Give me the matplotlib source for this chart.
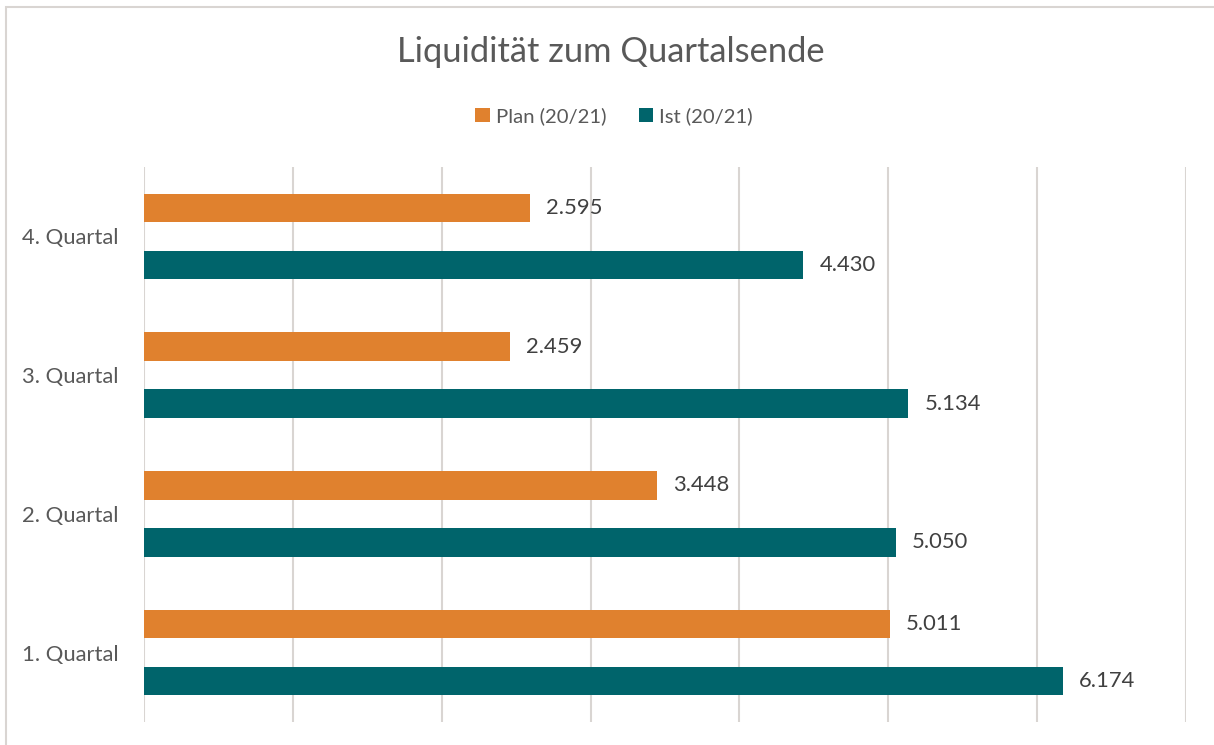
import matplotlib.pyplot as plt
import numpy as np
from matplotlib.patches import Rectangle

quarters = ['1. Quartal', '2. Quartal', '3. Quartal', '4. Quartal']
plan = [5011, 3448, 2459, 2595]
ist = [6174, 5050, 5134, 4430]
series_names = ['Plan (20/21)', 'Ist (20/21)']

orange = '#E0812E'
teal = '#00646B'
grid_col = '#D9D5D2'

plt.rcParams['font.family'] = ['Lato', 'DejaVu Sans']

W, H = 1214, 745
fig = plt.figure(figsize=(W / 100, H / 100), dpi=100)
ax = fig.add_axes([144 / W, 1 - 722 / H, (1186 - 144) / W, (722 - 167) / H])

y = np.arange(len(quarters))
h = 0.205
b_plan = ax.barh(y + h, plan, height=h, color=orange, label=series_names[0])
b_ist = ax.barh(y - h, ist, height=h, color=teal, label=series_names[1])

# value labels right of each bar, German thousands separator
for bars, vals in ((b_plan, plan), (b_ist, ist)):
    for bar, v in zip(bars, vals):
        ax.annotate('{:,}'.format(v).replace(',', '.'),
                    (v, bar.get_y() + bar.get_height() / 2),
                    xytext=(16, 0), textcoords='offset pixels',
                    va='center', ha='left', fontsize=15.8, color='#404040')

ax.set_xlim(0, 7000)
ax.set_ylim(-0.5, 3.5)
ax.set_xticks(np.arange(0, 7001, 1000))
ax.set_xticklabels([])
ax.set_yticks(y)
ax.set_yticklabels(quarters, fontsize=15.8, color='#595959')
ax.tick_params(axis='x', length=0)
ax.tick_params(axis='y', length=0, pad=18)
ax.grid(axis='x', color=grid_col, linewidth=1.5)
ax.set_axisbelow(True)
for s in ax.spines.values():
    s.set_visible(False)

fig.text(611 / W, 1 - 52 / H, 'Liquidität zum Quartalsende', ha='center', va='center',
         fontsize=24.8, color='#595959')
fig.legend(handles=[b_plan, b_ist], loc='center', bbox_to_anchor=(614 / W, 1 - 116 / H),
           ncol=2, frameon=False, fontsize=14.6, labelcolor='#595959',
           handlelength=0.7, handleheight=0.7, handletextpad=0.3, columnspacing=1.6)

fig.patches.append(Rectangle((6 / W, -0.02), 1.1, 1 - 7 / H + 0.02, transform=fig.transFigure,
                             fill=False, edgecolor='#D9D5D2', linewidth=1.5))

fig.savefig('out.png', dpi=100)
